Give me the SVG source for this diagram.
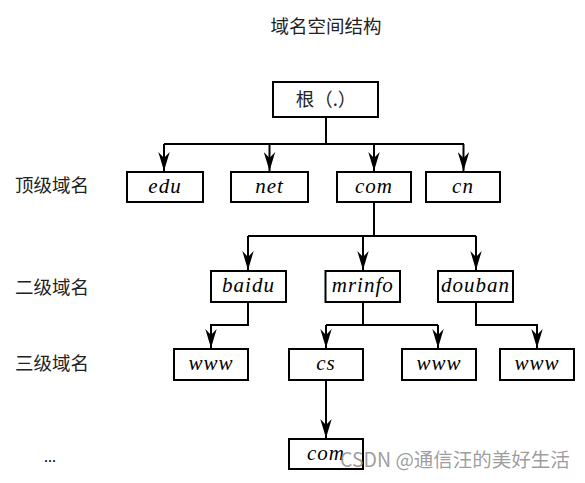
<svg xmlns="http://www.w3.org/2000/svg" width="585" height="483" viewBox="0 0 585 483">
<style>
.box{fill:#fff;stroke:#000;stroke-width:2}
.lbl{font-family:"Liberation Serif",serif;font-style:italic;font-size:21px;letter-spacing:1px;text-anchor:middle;fill:#000}
.cjk{font-family:"Noto Sans CJK SC",sans-serif;font-size:18.5px;fill:#222}
.ln{fill:none;stroke:#000;stroke-width:2}
.ar{fill:none;stroke:#000;stroke-width:2;marker-end:url(#ah)}
</style>
<defs>
<marker id="ah" markerUnits="userSpaceOnUse" markerWidth="20" markerHeight="12" viewBox="0 0 20 12" refX="19" refY="6" orient="auto">
<path d="M0,0.3 L19,6 L0,11.7 L6,6 Z" fill="#000"/>
</marker>
</defs>
<rect width="585" height="483" fill="#fff"/>
<text x="326" y="33" class="cjk" text-anchor="middle">域名空间结构</text>
<text x="15" y="192" class="cjk">顶级域名</text>
<text x="15" y="294" class="cjk">二级域名</text>
<text x="15" y="370" class="cjk">三级域名</text>
<text x="44" y="462" font-family="Liberation Serif, serif" font-size="16" fill="#000">...</text>
<g id="connectors">
<path class="ln" d="M326,117 V144" stroke-width="2.7"/>
<path class="ln" d="M164,144 H464"/>
<path class="ar" d="M164,144 V171"/>
<path class="ar" d="M269.5,144 V171"/>
<path class="ar" d="M374,144 V171"/>
<path class="ar" d="M463.5,144 V171"/>
<path class="ln" d="M374,202 V236 M248,236 H476"/>
<path class="ar" d="M248,236 V270"/>
<path class="ar" d="M363,236 V270"/>
<path class="ar" d="M476,236 V270"/>
<path class="ar" d="M248,302 V325 H211 V348"/>
<path class="ln" d="M363,302 V325 M326,325 H438"/>
<path class="ar" d="M326,325 V348"/>
<path class="ar" d="M438,325 V348"/>
<path class="ar" d="M476,302 V325 H537 V348"/>
<path class="ar" d="M326,380 V438"/>
</g>
<g id="root"><rect class="box" x="273" y="82" width="105" height="35"/><text x="326" y="106" class="cjk" text-anchor="middle" fill="#000">根（.）</text></g>
<g id="edu"><rect class="box" x="127" y="172" width="76" height="30"/><text x="165" y="193" class="lbl">edu</text></g>
<g id="net"><rect class="box" x="231" y="172" width="77" height="30"/><text x="269.5" y="193" class="lbl">net</text></g>
<g id="com"><rect class="box" x="337" y="172" width="74" height="30"/><text x="374" y="193" class="lbl">com</text></g>
<g id="cn"><rect class="box" x="426" y="172" width="74" height="30"/><text x="463" y="193" class="lbl">cn</text></g>
<g id="baidu"><rect class="box" x="211" y="271" width="75" height="31"/><text x="248.5" y="292" class="lbl">baidu</text></g>
<g id="mrinfo"><rect class="box" x="325.5" y="271" width="74.5" height="31"/><text x="362.75" y="292" class="lbl">mrinfo</text></g>
<g id="douban"><rect class="box" x="438" y="271" width="75" height="31"/><text x="475.5" y="292" class="lbl">douban</text></g>
<g id="www1"><rect class="box" x="174" y="349" width="74" height="31"/><text x="211" y="370" class="lbl">www</text></g>
<g id="cs"><rect class="box" x="289" y="349" width="74" height="31"/><text x="326" y="370" class="lbl">cs</text></g>
<g id="www2"><rect class="box" x="402" y="349" width="74" height="31"/><text x="439" y="370" class="lbl">www</text></g>
<g id="www3"><rect class="box" x="500" y="349" width="74" height="31"/><text x="537" y="370" class="lbl">www</text></g>
<g id="com2"><rect class="box" x="289" y="439" width="74" height="30"/><text x="326" y="460" class="lbl">com</text></g>
<text x="340" y="467" font-family="Noto Sans CJK SC, sans-serif" font-size="19.5" fill="#8c8c8c" fill-opacity="0.85">CSDN @通信汪的美好生活</text>
</svg>
